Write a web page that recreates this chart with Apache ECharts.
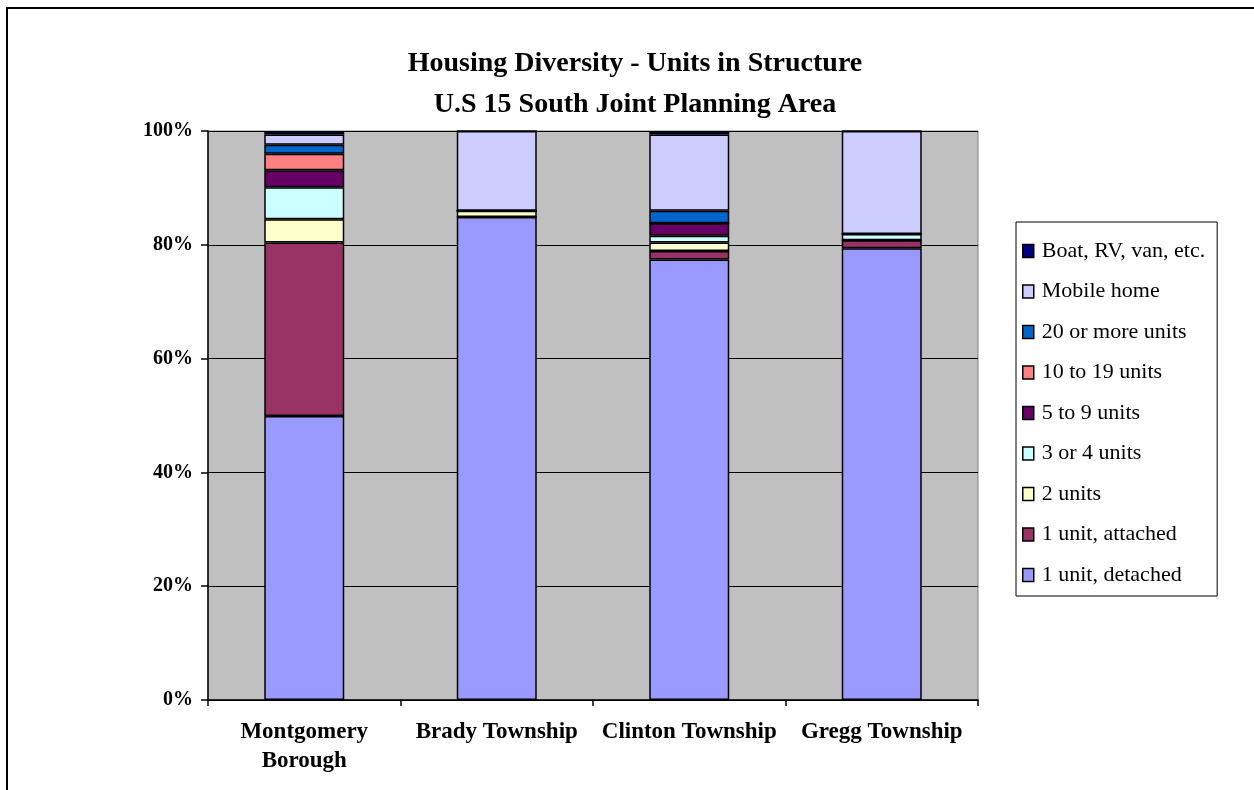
<!DOCTYPE html>
<html>
<head>
<meta charset="utf-8">
<script src="https://cdn.jsdelivr.net/npm/echarts@6/dist/echarts.min.js"></script>
<style>html,body{margin:0;padding:0;background:#fff}#c{width:1254px;height:790px}</style>
</head>
<body>
<div id="c"></div>
<script>
const categories = ['Montgomery\nBorough', 'Brady Township', 'Clinton Township', 'Gregg Township'];
const seriesNames = ['1 unit, detached', '1 unit, attached', '2 units', '3 or 4 units', '5 to 9 units', '10 to 19 units', '20 or more units', 'Mobile home', 'Boat, RV, van, etc.'];
const detached1 = [49.9, 84.9, 77.4, 79.4];
const attached1 = [30.5, 0, 1.5, 1.4];
const units2 = [4.1, 1.1, 1.5, 0];
const units3to4 = [5.6, 0, 1.2, 1.1];
const units5to9 = [3.0, 0, 2.2, 0];
const units10to19 = [2.9, 0, 0, 0];
const units20plus = [1.6, 0, 2.2, 0];
const mobileHome = [1.8, 14.0, 13.4, 18.1];
const boatRv = [0.6, 0, 0.6, 0];
const yTicks = [0, 20, 40, 60, 80, 100];

const seriesData = [detached1, attached1, units2, units3to4, units5to9, units10to19, units20plus, mobileHome, boatRv];
const colors = ['#9999FF', '#993366', '#FFFFCC', '#CCFFFF', '#660066', '#FF8080', '#0066CC', '#CCCCFF', '#000080'];

const font = 'Liberation Serif';
const chart = echarts.init(document.getElementById('c'), null, {renderer: 'canvas'});
chart.setOption({
  animation: false,
  backgroundColor: '#fff',
  title: {
    text: 'Housing Diversity - Units in Structure\nU.S 15 South Joint Planning Area',
    left: 630, top: 38, textAlign: 'center',
    textStyle: {fontFamily: font, fontSize: 28, fontWeight: 'bold', color: '#000', lineHeight: 41}
  },
  graphic: [{
    type: 'rect', silent: true, z: 100,
    shape: {x: 7, y: 8, width: 1300, height: 900},
    style: {fill: 'none', stroke: '#000', lineWidth: 2}
  }],
  legend: {
    orient: 'vertical',
    left: 1016, top: 222,
    padding: [18, 12, 10, 6],
    borderColor: '#000', borderWidth: 1,
    itemWidth: 11, itemHeight: 13, itemGap: 18.5,
    icon: 'rect',
    data: seriesNames.slice().reverse(),
    textStyle: {fontFamily: font, fontSize: 22, color: '#000', lineHeight: 21, padding: [0, 0, 0, 3]},
    itemStyle: {borderColor: '#000', borderWidth: 1.5}
  },
  grid: {
    left: 208, top: 131, width: 770, height: 569,
    show: true, backgroundColor: '#C0C0C0', borderColor: '#808080', borderWidth: 1,
    containLabel: false
  },
  xAxis: {
    type: 'category',
    data: categories,
    axisLine: {lineStyle: {color: '#000', width: 1.5}},
    axisTick: {show: true, length: 6, alignWithLabel: false, lineStyle: {color: '#000', width: 1.5}},
    axisLabel: {fontFamily: font, fontSize: 23, fontWeight: 'bold', color: '#000', margin: 18, lineHeight: 29, interval: 0}
  },
  yAxis: {
    type: 'value', min: 0, max: 100, interval: 20,
    axisLine: {show: true, lineStyle: {color: '#000', width: 1.5}},
    axisTick: {show: true, length: 7, lineStyle: {color: '#000', width: 1.5}},
    splitLine: {show: true, lineStyle: {color: '#000', width: 1}},
    axisLabel: {fontFamily: font, fontSize: 20, fontWeight: 'bold', color: '#000', margin: 15,
      formatter: function (v) { return yTicks.indexOf(v) >= 0 ? v + '%' : ''; }}
  },
  series: seriesNames.map(function (name, i) {
    return {
      name: name, type: 'bar', stack: 'total', barWidth: 80,
      data: seriesData[i],
      itemStyle: {color: colors[i], borderColor: '#000', borderWidth: 1.5},
      emphasis: {disabled: true}
    };
  })
});
</script>
</body>
</html>
